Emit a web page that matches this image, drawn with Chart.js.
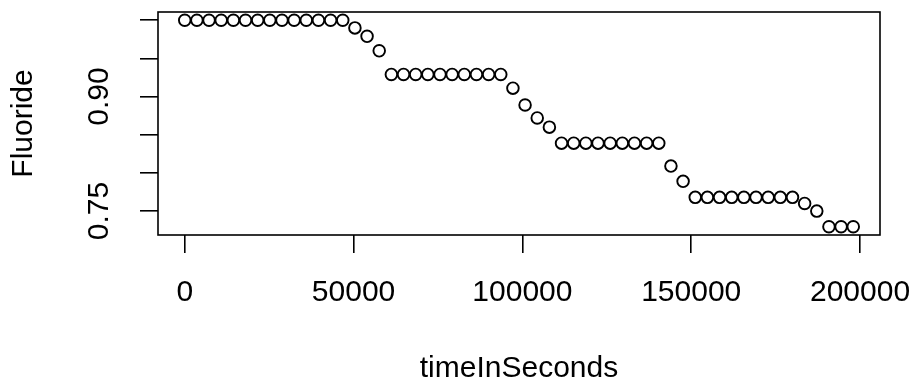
<!DOCTYPE html>
<html>
<head>
<meta charset="utf-8">
<script src="https://cdn.jsdelivr.net/npm/chart.js@4.4.1/dist/chart.umd.min.js"></script>
<style>
    html, body { margin: 0; padding: 0; background: #fff; }
    #wrap { width: 917px; height: 382px; position: relative; }
</style>
</head>
<body>
<div id="wrap"><canvas id="fluorideChart"></canvas></div>
<script>
// readings, one per hour
var timeInSeconds = [
    0, 3600, 7200, 10800, 14400, 18000, 21600, 25200, 28800, 32400,
    36000, 39600, 43200, 46800, 50400, 54000, 57600, 61200, 64800, 68400,
    72000, 75600, 79200, 82800, 86400, 90000, 93600, 97200, 100800, 104400,
    108000, 111600, 115200, 118800, 122400, 126000, 129600, 133200, 136800, 140400,
    144000, 147600, 151200, 154800, 158400, 162000, 165600, 169200, 172800, 176400,
    180000, 183600, 187200, 190800, 194400, 198000
];
var fluoride = [
    1.0, 1.0, 1.0, 1.0, 1.0, 1.0, 1.0, 1.0, 1.0, 1.0,
    1.0, 1.0, 1.0, 1.0, 0.990, 0.979, 0.960, 0.929, 0.929, 0.929,
    0.929, 0.929, 0.929, 0.929, 0.929, 0.929, 0.929, 0.911, 0.889, 0.872,
    0.860, 0.839, 0.839, 0.839, 0.839, 0.839, 0.839, 0.839, 0.839, 0.839,
    0.809, 0.789, 0.768, 0.768, 0.768, 0.768, 0.768, 0.768, 0.768, 0.768,
    0.768, 0.760, 0.750, 0.7295, 0.7295, 0.7295
];
var xTickValues = [0, 50000, 100000, 150000, 200000];
var xTickLabels = ['0', '50000', '100000', '150000', '200000'];
var yTickValues = [0.75, 0.80, 0.85, 0.90, 0.95, 1.00];
var yTickLabels = ['0.75', '', '', '0.90', '', ''];

var font = {family: "'Liberation Sans', Arial, sans-serif", size: 30};

// R style box round the plot region
var plotBox = {
    id: 'plotBox',
    afterDatasetsDraw: function (chart) {
        var a = chart.chartArea;
        var ctx = chart.ctx;
        ctx.save();
        ctx.strokeStyle = '#000';
        ctx.lineWidth = 1.6;
        ctx.strokeRect(a.left, a.top, a.right - a.left, a.bottom - a.top);
        ctx.restore();
    }
};

var points = timeInSeconds.map(function (t, i) {
    return {x: t, y: fluoride[i]};
});

var ctx = document.getElementById('fluorideChart').getContext('2d');
window.fluorideChart = new Chart(ctx, {
    type: 'scatter',
    data: {
        datasets: [{
            data: points,
            pointRadius: 5.8,
            pointBorderWidth: 1.9,
            pointBorderColor: '#000',
            pointBackgroundColor: 'rgba(0,0,0,0)'
        }]
    },
    plugins: [plotBox],
    options: {
        animation: false,
        responsive: true,
        maintainAspectRatio: false,
        layout: {padding: {top: 12, right: 37, left: 0, bottom: 0}},
        plugins: {
            legend: {display: false},
            tooltip: {enabled: false}
        },
        scales: {
            x: {
                type: 'linear',
                min: -7920,
                max: 205920,
                afterBuildTicks: function (scale) {
                    scale.ticks = xTickValues.map(function (v) { return {value: v}; });
                },
                afterFit: function (scale) {
                    scale.height = 147;
                    scale.paddingLeft = 0;
                    scale.paddingRight = 0;
                },
                ticks: {
                    autoSkip: false,
                    maxRotation: 0,
                    padding: 22,
                    color: '#000',
                    font: font,
                    callback: function (v, i) { return xTickLabels[i]; }
                },
                grid: {
                    drawOnChartArea: false,
                    drawTicks: true,
                    tickLength: 18,
                    color: '#000',
                    lineWidth: 1.6
                },
                border: {display: false},
                title: {
                    display: true,
                    text: 'timeInSeconds',
                    color: '#000',
                    font: {family: font.family, size: 30, lineHeight: 0.9},
                    padding: 0
                }
            },
            y: {
                type: 'linear',
                min: 0.7187,
                max: 1.0108,
                afterBuildTicks: function (scale) {
                    scale.ticks = yTickValues.map(function (v) { return {value: v}; });
                },
                afterFit: function (scale) {
                    scale.width = 158;
                    scale.paddingTop = 0;
                    scale.paddingBottom = 0;
                },
                ticks: {
                    autoSkip: false,
                    minRotation: 90,
                    maxRotation: 90,
                    crossAlign: 'center',
                    padding: 11,
                    color: '#000',
                    font: font,
                    callback: function (v, i) { return yTickLabels[i]; }
                },
                grid: {
                    drawOnChartArea: false,
                    drawTicks: true,
                    tickLength: 18,
                    color: '#000',
                    lineWidth: 1.6
                },
                border: {display: false},
                title: {
                    display: true,
                    text: 'Fluoride',
                    color: '#000',
                    font: {family: font.family, size: 30},
                    padding: {top: 6, bottom: 0}
                }
            }
        }
    }
});
</script>
</body>
</html>
